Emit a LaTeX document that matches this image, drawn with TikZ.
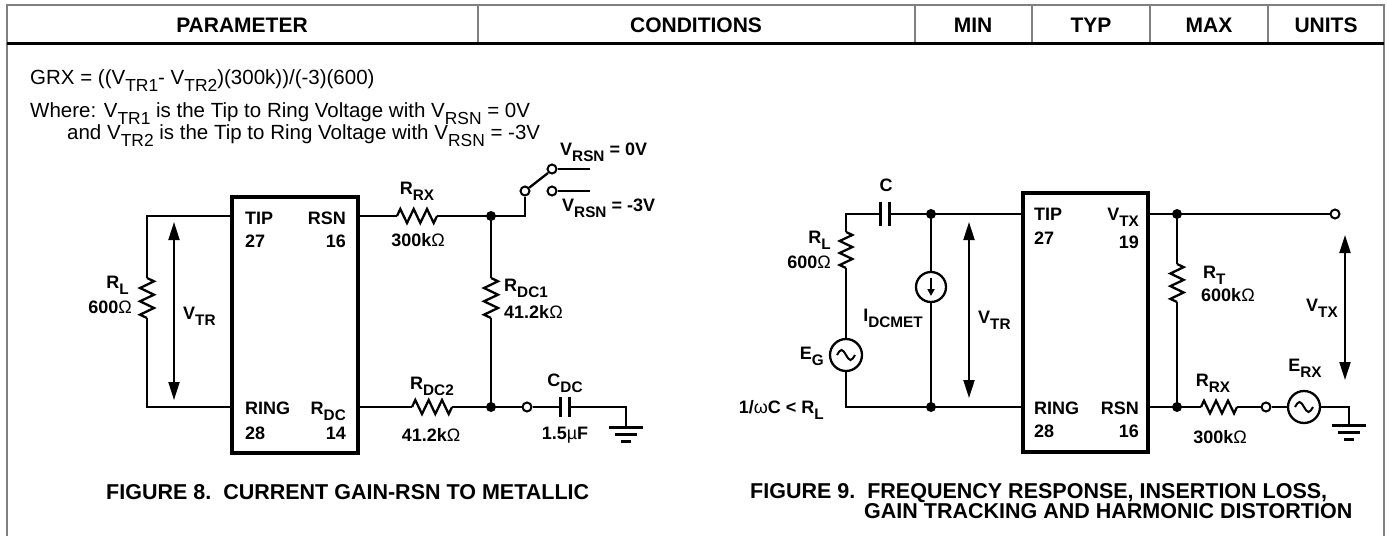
\documentclass[tikz,border=0pt]{standalone}
\usepackage{fontspec}
\setmainfont{Liberation Sans}
\usetikzlibrary{arrows.meta}
\newcommand\lo[1]{\raisebox{-.35em}{\scalebox{.85}{#1}}}
\tikzset{
  wire/.style={line width=2.3pt},
  frame/.style={line width=1.2pt, gray},
  chip/.style={draw, line width=4.5pt, inner sep=0},
  head/.style={font=\fontsize{21}{24}\selectfont\bfseries, inner sep=0, anchor=base},
  lab/.style={font=\fontsize{18}{20}\selectfont\bfseries, inner sep=0},
  txt/.style={font=\fontsize{20.5}{24}\selectfont, inner sep=0, anchor=base west},
  capt/.style={font=\fontsize{21.5}{22}\selectfont\bfseries, inner sep=0, anchor=base west},
  dot/.style={circle, fill, inner sep=0, minimum size=10pt},
  opn/.style={circle, draw, fill=white, line width=2pt, inner sep=0, minimum size=9pt},
  plate/.style={line width=3pt},
  varrow/.style={line width=2pt, {Triangle[length=18pt,width=11pt]}-{Triangle[length=18pt,width=11pt]}},
  res/.pic={\draw[wire] (-20,0) coordinate (-a) -- (-16.7,-7) -- (-10,7) -- (-3.3,-7)
    -- (3.3,7) -- (10,-7) -- (16.7,7) -- (20,0) coordinate (-b);},
  gnd/.pic={\draw[line width=3pt] (-17,0) -- (17,0) (-11,7) -- (11,7) (-5,14) -- (5,14);},
  ac/.pic={\draw[wire, fill=white] (0,0) circle[radius=16];
    \draw[line width=2pt] (-9,0) sin (-4.5,-5) cos (0,0) sin (4.5,5) cos (9,0);},
  isrc/.pic={\draw[wire, fill=white] (0,0) circle[radius=15];
    \draw[line width=2pt, -{Triangle[length=7pt,width=7pt]}] (0,-9) -- (0,9);},
}
\begin{document}
\begin{tikzpicture}[x=1pt,y=-1pt]
\useasboundingbox (0,0) rectangle (1387,536);

% table head
\draw[frame] (7,536) -- (7,5) -- (1384,5) -- (1384,536);
\foreach \x in {478,915,1032,1150,1268}
  \draw[frame] (\x,5) -- (\x,43);
\draw[line width=3pt] (7,43) -- (1384,43);
\foreach \x/\t in {242/PARAMETER,696/CONDITIONS,973/MIN,1091/TYP,1209/MAX,1326/UNITS}
  \node[head] at (\x,32.5) {\t};

% formula
\node[txt] (grx) at (30,84) {GRX = ((V\lo{TR1}- V\lo{TR2})(300k))/(-3)(600)};
\node[txt] (where) at (30,117) {Where: V\lo{TR1} is the Tip to Ring Voltage with V\lo{RSN} = 0V};
\node[txt] (and) at (67,139) {and V\lo{TR2} is the Tip to Ring Voltage with V\lo{RSN} = -3V};

% figure 8
\node[chip, minimum width=126pt, minimum height=256pt] (ic8) at (295,325) {};
\coordinate (tl8) at (147,216);
\coordinate (bl8) at (147,407);
\coordinate (j8t) at (491,216);
\coordinate (j8b) at (491,407);
\pic[rotate=-90] (rl8) at (147,298) {res};
\pic (rrx8) at (417,216) {res};
\pic[rotate=-90] (rdc1) at (491,298) {res};
\pic (rdc2) at (432,407) {res};
\node[opn] (sw0) at (525,191) {};
\node[opn] (sw1) at (552,169) {};
\node[opn] (sw2) at (552,191) {};
\coordinate (sw1e) at (590,169);
\coordinate (sw2e) at (590,191);
\coordinate (blade) at (548,173);
\node[opn] (o8) at (527,407) {};
\coordinate (c8a) at (560,407);
\coordinate (c8b) at (569,407);
\coordinate (g8) at (626,407);
\coordinate (g8b) at (626,427);
\coordinate (v8a) at (174,222);
\coordinate (v8b) at (174,400);

\draw[wire] (ic8.west |- tl8) -- (tl8) -- (rl8-a);
\draw[wire] (rl8-b) -- (bl8) -- (ic8.west |- bl8);
\draw[wire] (ic8.east |- j8t) -- (rrx8-a);
\draw[wire] (rrx8-b) -- (j8t) -- (rdc1-a);
\draw[wire] (rdc1-b) -- (j8b);
\draw[wire] (j8t) -- (j8t -| sw0) -- (sw0);
\draw[wire] (sw0) -- (blade);
\draw[wire] (sw1) -- (sw1e);
\draw[wire] (sw2) -- (sw2e);
\draw[wire] (ic8.east |- j8b) -- (rdc2-a);
\draw[wire] (rdc2-b) -- (j8b) -- (o8);
\draw[wire] (o8) -- (c8a);
\draw[wire] (c8b) -- (g8) -- (g8b);
\draw[plate] (c8a) ++(0,-10) -- ++(0,20);
\draw[plate] (c8b) ++(0,-10) -- ++(0,20);
\pic at (g8b) {gnd};
\node[dot] at (j8t) {};
\node[dot] at (j8b) {};
\draw[varrow] (v8a) -- (v8b);

\node[lab, anchor=base west] at (245,224) {TIP};
\node[lab, anchor=base west] at (245,247) {27};
\node[lab, anchor=base east] at (346,224) {RSN};
\node[lab, anchor=base east] at (346,247) {16};
\node[lab, anchor=base west] at (245,414) {RING};
\node[lab, anchor=base west] at (245,439) {28};
\node[lab, anchor=base east] at (346,414) {R\lo{DC}};
\node[lab, anchor=base east] at (346,439) {14};
\node[lab, anchor=base east] at (129,288) {R\lo{L}};
\node[lab, anchor=base east] at (132,313) {600{\mdseries Ω}};
\node[lab, anchor=base west] at (183,319) {V\lo{TR}};
\node[lab, anchor=base] at (417,194) {R\lo{RX}};
\node[lab, anchor=base] at (418,246) {300k{\mdseries Ω}};
\node[lab, anchor=base west] at (504,291) {R\lo{DC1}};
\node[lab, anchor=base west] at (504,318) {41.2k{\mdseries Ω}};
\node[lab, anchor=base] at (432,389) {R\lo{DC2}};
\node[lab, anchor=base] at (431,441) {41.2k{\mdseries Ω}};
\node[lab, anchor=base] at (565,386) {C\lo{DC}};
\node[lab, anchor=base] at (565,439) {1.5{\mdseries µ}F};
\node[lab, anchor=base west] at (560,155) {V\lo{RSN} = 0V};
\node[lab, anchor=base west] at (562,211) {V\lo{RSN} = -3V};
\node[capt] (cap8) at (106,499) {FIGURE 8.\ \ CURRENT GAIN-RSN TO METALLIC};

% figure 9
\node[chip, minimum width=125pt, minimum height=259pt] (ic9) at (1085.5,322.5) {};
\coordinate (tl9) at (846,214);
\coordinate (bl9) at (846,407);
\coordinate (j9t) at (931,214);
\coordinate (j9b) at (931,407);
\coordinate (c9a) at (880,214);
\coordinate (c9b) at (889,214);
\coordinate (r9t) at (1177,214);
\coordinate (r9b) at (1177,407);
\coordinate (g9) at (1349,407);
\coordinate (g9b) at (1349,425);
\coordinate (v9a) at (969,222);
\coordinate (v9b) at (969,398);
\coordinate (x9a) at (1345,235);
\coordinate (x9b) at (1345,380);
\pic[rotate=-90, scale=.9] (rl9) at (846,250) {res};
\pic[rotate=-90, scale=.95] (rt9) at (1177,283) {res};
\pic[scale=.9] (rrx9) at (1219,407) {res};
\node[opn] (o9t) at (1335,214) {};
\node[opn] (o9b) at (1266,407) {};

\draw[wire] (ic9.west |- j9t) -- (j9t) -- (c9b);
\draw[wire] (c9a) -- (tl9) -- (rl9-a);
\draw[wire] (rl9-b) -- (bl9) -- (ic9.west |- bl9);
\draw[wire] (j9t) -- (j9b);
\draw[wire] (ic9.east |- r9t) -- (r9t) -- (o9t);
\draw[wire] (r9t) -- (rt9-a);
\draw[wire] (rt9-b) -- (r9b);
\draw[wire] (ic9.east |- r9b) -- (rrx9-a);
\draw[wire] (rrx9-b) -- (o9b);
\draw[wire] (o9b) -- (g9) -- (g9b);
\draw[plate] (c9a) ++(0,-12) -- ++(0,24);
\draw[plate] (c9b) ++(0,-12) -- ++(0,24);
\pic at (846,355) {ac};
\pic at (1304,407) {ac};
\pic at (931,287) {isrc};
\pic at (g9b) {gnd};
\foreach \p in {j9t,j9b,r9t,r9b}
  \node[dot] at (\p) {};
\draw[varrow] (v9a) -- (v9b);
\draw[varrow] (x9a) -- (x9b);

\node[lab, anchor=base west] at (1034,220) {TIP};
\node[lab, anchor=base west] at (1034,244) {27};
\node[lab, anchor=base east] at (1139,220) {V\lo{TX}};
\node[lab, anchor=base east] at (1139,248) {19};
\node[lab, anchor=base west] at (1034,414) {RING};
\node[lab, anchor=base west] at (1034,437) {28};
\node[lab, anchor=base east] at (1139,414) {RSN};
\node[lab, anchor=base east] at (1139,437) {16};
\node[lab, anchor=base] at (886,191) {C};
\node[lab, anchor=base east] at (831,243) {R\lo{L}};
\node[lab, anchor=base east] at (831,268) {600{\mdseries Ω}};
\node[lab, anchor=base east] at (824,359) {E\lo{G}};
\node[lab, anchor=base east] at (824,413) {1/{\mdseries ω}C < R\lo{L}};
\node[lab, anchor=base] at (893,321) {I\lo{DCMET}};
\node[lab, anchor=base west] at (978,323) {V\lo{TR}};
\node[lab, anchor=base west] at (1203,278) {R\lo{T}};
\node[lab, anchor=base west] at (1201,301) {600k{\mdseries Ω}};
\node[lab, anchor=base west] at (1306,311) {V\lo{TX}};
\node[lab, anchor=base] at (1305,371) {E\lo{RX}};
\node[lab, anchor=base] at (1213,386) {R\lo{RX}};
\node[lab, anchor=base] at (1220,443) {300k{\mdseries Ω}};
\node[capt] (cap9) at (750,498) {FIGURE 9.\ \ FREQUENCY RESPONSE, INSERTION LOSS,};
\node[capt] (cap9b) at (864,518) {GAIN TRACKING AND HARMONIC DISTORTION};
\end{tikzpicture}
\end{document}
